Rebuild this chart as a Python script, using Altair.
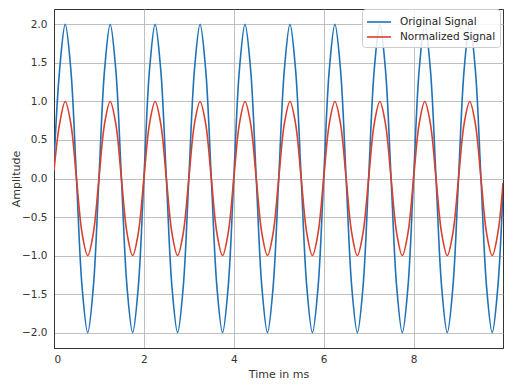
import altair as alt
import pandas as pd

# sample times (ms), 8 samples per 1 ms period
time_ms = [
    0.0, 0.125, 0.25, 0.375, 0.5, 0.625, 0.75, 0.875,
    1.0, 1.125, 1.25, 1.375, 1.5, 1.625, 1.75, 1.875,
    2.0, 2.125, 2.25, 2.375, 2.5, 2.625, 2.75, 2.875,
    3.0, 3.125, 3.25, 3.375, 3.5, 3.625, 3.75, 3.875,
    4.0, 4.125, 4.25, 4.375, 4.5, 4.625, 4.75, 4.875,
    5.0, 5.125, 5.25, 5.375, 5.5, 5.625, 5.75, 5.875,
    6.0, 6.125, 6.25, 6.375, 6.5, 6.625, 6.75, 6.875,
    7.0, 7.125, 7.25, 7.375, 7.5, 7.625, 7.75, 7.875,
    8.0, 8.125, 8.25, 8.375, 8.5, 8.625, 8.75, 8.875,
    9.0, 9.125, 9.25, 9.375, 9.5, 9.625, 9.75, 9.875,
    9.99,
]

original_signal = [
    0.2, 1.41, 2.0, 1.41, 0.0, -1.41, -2.0, -1.41,
    0.0, 1.41, 2.0, 1.41, 0.0, -1.41, -2.0, -1.41,
    0.0, 1.41, 2.0, 1.41, 0.0, -1.41, -2.0, -1.41,
    0.0, 1.41, 2.0, 1.41, 0.0, -1.41, -2.0, -1.41,
    0.0, 1.41, 2.0, 1.41, 0.0, -1.41, -2.0, -1.41,
    0.0, 1.41, 2.0, 1.41, 0.0, -1.41, -2.0, -1.41,
    0.0, 1.41, 2.0, 1.41, 0.0, -1.41, -2.0, -1.41,
    0.0, 1.41, 2.0, 1.41, 0.0, -1.41, -2.0, -1.41,
    0.0, 1.41, 2.0, 1.41, 0.0, -1.41, -2.0, -1.41,
    0.0, 1.41, 2.0, 1.41, 0.0, -1.41, -2.0, -1.41,
    -0.13,
]

normalized_signal = [
    0.1, 0.71, 1.0, 0.71, 0.0, -0.71, -1.0, -0.71,
    0.0, 0.71, 1.0, 0.71, 0.0, -0.71, -1.0, -0.71,
    0.0, 0.71, 1.0, 0.71, 0.0, -0.71, -1.0, -0.71,
    0.0, 0.71, 1.0, 0.71, 0.0, -0.71, -1.0, -0.71,
    0.0, 0.71, 1.0, 0.71, 0.0, -0.71, -1.0, -0.71,
    0.0, 0.71, 1.0, 0.71, 0.0, -0.71, -1.0, -0.71,
    0.0, 0.71, 1.0, 0.71, 0.0, -0.71, -1.0, -0.71,
    0.0, 0.71, 1.0, 0.71, 0.0, -0.71, -1.0, -0.71,
    0.0, 0.71, 1.0, 0.71, 0.0, -0.71, -1.0, -0.71,
    0.0, 0.71, 1.0, 0.71, 0.0, -0.71, -1.0, -0.71,
    -0.06,
]

series_names = ["Original Signal", "Normalized Signal"]
series_colors = ["#1f72b8", "#d8412b"]
x_ticks = [0, 2, 4, 6, 8]
y_ticks = [-2.0, -1.5, -1.0, -0.5, 0.0, 0.5, 1.0, 1.5, 2.0]

df = pd.concat([
    pd.DataFrame({"t": time_ms, "v": original_signal, "series": series_names[0]}),
    pd.DataFrame({"t": time_ms, "v": normalized_signal, "series": series_names[1]}),
], ignore_index=True)

x_enc = alt.X("t:Q", title="Time in ms",
              scale=alt.Scale(domain=[0, 9.99], nice=False, zero=False),
              axis=alt.Axis(values=x_ticks, format="d", labelPadding=6, titlePadding=4))
y_enc = alt.Y("v:Q", title="Amplitude",
              scale=alt.Scale(domain=[-2.2, 2.2], nice=False),
              axis=alt.Axis(values=y_ticks, format=".1f", labelPadding=7, titlePadding=0))
color_enc = alt.Color("series:N", sort=series_names,
                      scale=alt.Scale(domain=series_names, range=series_colors),
                      legend=alt.Legend(title=None, orient="none", legendX=308, legendY=0))

base = alt.Chart(df).mark_line(strokeWidth=1.6, interpolate="catmull-rom", clip=True)

layer_orig = base.transform_filter(alt.datum.series == series_names[0]).encode(
    x=x_enc, y=y_enc, color=color_enc)
layer_norm = base.transform_filter(alt.datum.series == series_names[1]).encode(
    x=x_enc, y=y_enc, color=color_enc)

chart = alt.layer(layer_orig, layer_norm).properties(
    width=449, height=339,
    autosize=alt.AutoSizeParams(type="none"),
    padding={"left": 46, "top": 1, "right": 1, "bottom": 36},
).configure_view(
    stroke="#333333", strokeWidth=1
).configure_axis(
    domainColor="#333333", domainWidth=1,
    gridColor="#b0b0b0", gridWidth=0.8,
    ticks=False, tickSize=0,
    labelFont="DejaVu Sans", labelFontSize=10.5, labelColor="#333333",
    titleFont="DejaVu Sans", titleFontSize=11, titleFontWeight="normal", titleColor="#333333",
).configure_legend(
    fillColor="rgba(255,255,255,0.85)", strokeColor="#cccccc", cornerRadius=3,
    padding=4, symbolType="M-1.5,0H1.5", symbolSize=256, symbolOffset=4,
    symbolStrokeWidth=1.6,
    labelFont="DejaVu Sans", labelFontSize=10.5, labelColor="#262626",
    labelOffset=12, rowPadding=0,
)

chart.save("out.html", embed_options={"renderer": "svg", "actions": False})
